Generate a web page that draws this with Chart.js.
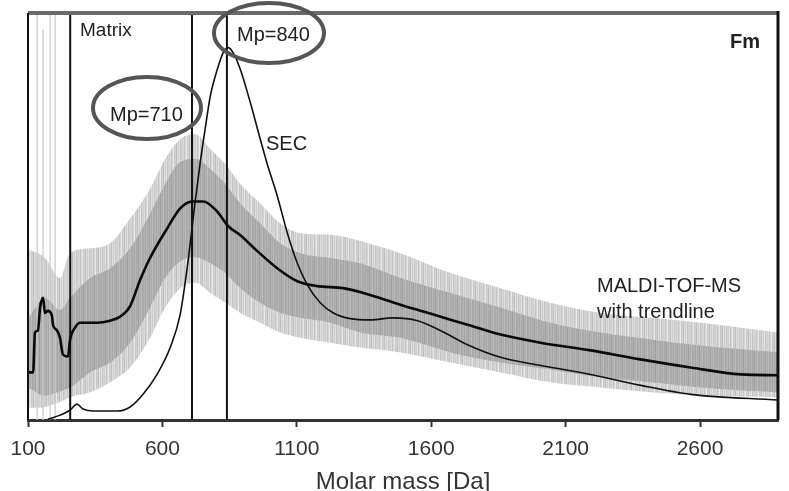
<!DOCTYPE html>
<html>
<head>
<meta charset="utf-8">
<script src="https://cdn.jsdelivr.net/npm/chart.js@4.4.1/dist/chart.umd.min.js"></script>
<style>
  body { margin: 0; background: #fff; }
  canvas { display: block; }
</style>
</head>
<body>
<canvas id="msChart" width="789" height="491"></canvas>
<script>
// x axis ticks (Da)
const massTicks = [100, 600, 1100, 1600, 2100, 2600];

// SEC curve
const secMass = [174, 219, 256, 282, 305, 342, 431, 480, 528, 580, 629, 666, 692, 722, 741, 759, 778, 804, 826, 845, 867, 890, 927, 957, 990, 1027, 1065, 1102, 1139, 1187, 1236, 1299, 1374, 1459, 1549, 1634, 1735, 1858, 2007, 2193, 2380, 2565, 2893];
const secSignal = [0.2, 1.2, 2.4, 3.9, 2.7, 2.2, 2.2, 3.2, 6.3, 11.2, 17.8, 25.9, 37.3, 53.7, 63.4, 71.5, 79.5, 86.1, 90.2, 91.5, 89.8, 86.1, 78.0, 70.7, 62.9, 55.1, 45.9, 38.5, 33.2, 28.8, 26.3, 24.9, 24.6, 25.1, 24.4, 22.0, 18.5, 15.4, 13.4, 11.2, 8.5, 6.3, 4.9];

// MALDI-TOF-MS trendline
const trendMass = [100, 119, 126, 137, 145, 156, 163, 174, 189, 193, 208, 219, 230, 249, 256, 275, 294, 357, 405, 443, 480, 517, 554, 618, 666, 711, 752, 804, 845, 890, 953, 1027, 1102, 1176, 1273, 1348, 1485, 1608, 1735, 1858, 2007, 2193, 2379, 2565, 2752, 2893];
const trendSignal = [11.7, 11.7, 21.5, 22.0, 27.6, 30.0, 26.3, 26.8, 25.6, 23.4, 22.0, 20.2, 16.1, 15.6, 19.5, 22.7, 23.9, 23.9, 24.4, 25.4, 28.0, 34.4, 39.8, 47.1, 52.0, 53.7, 53.7, 51.2, 47.6, 45.4, 41.5, 37.3, 34.1, 32.9, 32.4, 31.2, 28.3, 25.9, 23.4, 21.0, 19.0, 17.1, 14.9, 12.9, 11.2, 11.0];

// raw MALDI spectrum: envelope of the noisy band
const bandMass = [100, 163, 219, 256, 331, 405, 480, 554, 610, 666, 722, 778, 834, 890, 964, 1039, 1113, 1225, 1336, 1485, 1672, 1858, 2044, 2230, 2417, 2603, 2893];
const coreHigh = [25.0, 30.0, 27.0, 30.0, 34.9, 37.3, 42.2, 50.7, 58.0, 63.4, 64.1, 61.7, 58.0, 53.2, 48.3, 43.4, 41.0, 39.8, 38.5, 34.9, 31.2, 27.6, 23.9, 21.5, 19.8, 18.3, 16.6];
const coreLow = [8.0, 6.0, 7.0, 8.0, 11.7, 14.1, 19.0, 27.6, 34.9, 39.0, 40.0, 38.5, 36.1, 32.4, 28.8, 26.3, 25.1, 23.9, 21.5, 20.2, 16.6, 14.1, 12.4, 10.5, 9.3, 8.0, 6.8];
const spikeHigh = [42.0, 39.8, 34.9, 41.0, 42.2, 43.4, 49.5, 56.8, 64.1, 69.0, 70.2, 66.6, 62.9, 58.0, 53.2, 48.3, 45.9, 45.5, 44.0, 41.0, 36.1, 32.4, 28.8, 26.3, 25.1, 23.9, 21.5];
const spikeLow = [3.0, 3.2, 4.4, 5.6, 6.8, 9.3, 12.9, 20.2, 27.6, 32.4, 33.7, 31.2, 28.8, 26.3, 23.9, 21.5, 20.2, 19.0, 17.8, 16.6, 14.1, 11.7, 9.3, 8.0, 6.8, 6.1, 5.6];

// tall single peaks in the matrix region
const peakMass = [134, 156, 182, 201];
const peakTop = [100, 96, 100, 100];

// vertical marker lines: matrix, Mp=710, Mp=840
const markerMass = [257, 710, 840];

const pts = (xs, ys) => xs.map((x, i) => ({ x: x, y: ys[i] }));

const ctx = document.getElementById('msChart').getContext('2d');

function stripes(cols) {
    const c = document.createElement('canvas');
    c.width = cols.length;
    c.height = 1;
    const g = c.getContext('2d');
    cols.forEach((col, i) => { g.fillStyle = col; g.fillRect(i, 0, 1, 1); });
    return ctx.createPattern(c, 'repeat');
}
const outerFill = stripes(['#cfcfcf', '#dadada', '#c4c4c4', '#d6d6d6', '#e8e8e8', '#c9c9c9', '#d2d2d2', '#bfbfbf', '#dedede', '#cccccc', '#e2e2e2', '#c6c6c6', '#d4d4d4']);
const coreFill = stripes(['#acacac', '#b4b4b4', '#a4a4a4', '#b8b8b8', '#a8a8a8', '#b0b0b0', '#9f9f9f', '#b5b5b5', '#aaaaaa', '#bcbcbc', '#a6a6a6']);

const datasets = [];
datasets.push({ data: pts(bandMass, spikeHigh), fill: '+1', backgroundColor: outerFill, borderWidth: 0, pointRadius: 0, cubicInterpolationMode: 'monotone', order: 20 });
datasets.push({ data: pts(bandMass, spikeLow), fill: false, borderWidth: 0, pointRadius: 0, cubicInterpolationMode: 'monotone', order: 19 });
datasets.push({ data: pts(bandMass, coreHigh), fill: '+1', backgroundColor: coreFill, borderWidth: 0, pointRadius: 0, cubicInterpolationMode: 'monotone', order: 18 });
datasets.push({ data: pts(bandMass, coreLow), fill: false, borderWidth: 0, pointRadius: 0, cubicInterpolationMode: 'monotone', order: 17 });
peakMass.forEach((m, i) => {
    datasets.push({ data: [{ x: m, y: 0 }, { x: m, y: peakTop[i] }], borderColor: '#c9c9c9', borderWidth: 1.2, pointRadius: 0, fill: false, order: 15 });
});
markerMass.forEach(m => {
    datasets.push({ data: [{ x: m, y: 0 }, { x: m, y: 100 }], borderColor: '#111', borderWidth: 2, pointRadius: 0, fill: false, order: 5 });
});
datasets.push({ label: 'SEC', data: pts(secMass, secSignal), borderColor: '#111', borderWidth: 1.6, pointRadius: 0, fill: false, cubicInterpolationMode: 'monotone', order: 2 });
datasets.push({ label: 'MALDI-TOF-MS', data: pts(trendMass, trendSignal), borderColor: '#0a0a0a', borderWidth: 2.6, pointRadius: 0, fill: false, cubicInterpolationMode: 'monotone', order: 1 });

// frame, labels and circled Mp values
const decor = {
    id: 'decor',
    afterDraw(chart) {
        const c = chart.ctx;
        const a = chart.chartArea;
        c.save();
        c.strokeStyle = '#6a6a6a';
        c.lineWidth = 4;
        c.beginPath(); c.moveTo(a.left, a.top); c.lineTo(a.right, a.top); c.stroke();
        c.strokeStyle = '#111';
        c.lineWidth = 2;
        c.beginPath(); c.moveTo(a.left, a.top); c.lineTo(a.left, a.bottom); c.stroke();
        c.lineWidth = 3;
        c.beginPath(); c.moveTo(a.right, a.top - 2); c.lineTo(a.right, a.bottom); c.stroke();

        c.fillStyle = '#222';
        c.textBaseline = 'middle';
        c.textAlign = 'left';
        c.font = '19px "Liberation Sans", Arial, sans-serif';
        c.fillText('Matrix', 80, 31);
        c.font = '20px "Liberation Sans", Arial, sans-serif';
        c.fillText('Mp=710', 110, 115);
        c.fillText('Mp=840', 237, 35);
        c.fillText('SEC', 266, 144);
        c.fillText('MALDI-TOF-MS', 597, 286);
        c.fillText('with trendline', 597, 312);
        c.font = 'bold 20px "Liberation Sans", Arial, sans-serif';
        c.fillText('Fm', 730, 42);

        c.strokeStyle = '#555';
        c.lineWidth = 4;
        c.beginPath(); c.ellipse(147, 108, 54, 31, 0, 0, Math.PI * 2); c.stroke();
        c.beginPath(); c.ellipse(269, 33, 55, 30, 0, 0, Math.PI * 2); c.stroke();
        c.restore();
    }
};

new Chart(ctx, {
    type: 'line',
    data: { datasets: datasets },
    options: {
        responsive: false,
        animation: false,
        events: [],
        layout: { padding: { left: 28, right: 11, top: 13, bottom: -6 } },
        plugins: {
            legend: { display: false },
            tooltip: { enabled: false },
            filler: { drawTime: 'beforeDatasetsDraw' }
        },
        scales: {
            x: {
                type: 'linear',
                min: 100,
                max: 2890,
                offset: false,
                afterBuildTicks: axis => { axis.ticks = massTicks.map(v => ({ value: v })); },
                ticks: {
                    color: '#333',
                    padding: 10,
                    maxRotation: 0,
                    font: { family: '"Liberation Sans", Arial, sans-serif', size: 21 },
                    callback: v => String(v)
                },
                grid: { drawOnChartArea: false, drawTicks: true, tickLength: 7, tickWidth: 2, color: '#333' },
                border: { color: '#333', width: 3 },
                title: {
                    display: true,
                    text: 'Molar mass [Da]',
                    color: '#333',
                    padding: { top: -4, bottom: 0 },
                    font: { family: '"Liberation Sans", Arial, sans-serif', size: 24 }
                }
            },
            y: {
                display: false,
                min: 0,
                max: 100
            }
        }
    },
    plugins: [decor]
});
</script>
</body>
</html>
